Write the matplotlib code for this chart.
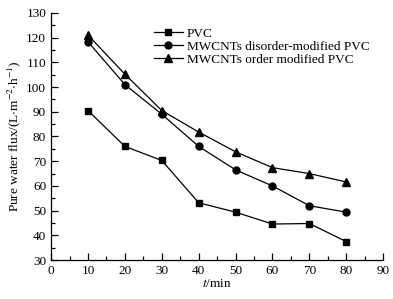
import matplotlib
matplotlib.use("Agg")
import matplotlib.pyplot as plt
from matplotlib.ticker import MultipleLocator

plt.rcParams["font.family"] = ["Liberation Serif", "DejaVu Serif"]
plt.rcParams["mathtext.fontset"] = "stix"

t = [10, 20, 30, 40, 50, 60, 70, 80]
pvc = [90.5, 76.0, 70.3, 53.2, 49.4, 44.6, 44.8, 37.5]
disorder = [118.3, 101.0, 89.0, 76.0, 66.5, 60.0, 52.0, 49.4]
order = [121.0, 105.2, 90.5, 81.8, 73.8, 67.4, 65.0, 61.6]

fig = plt.figure(figsize=(3.93, 2.99), dpi=100)
ax = fig.add_axes([0.130, 0.130, 0.845, 0.827])

ax.plot(t, pvc, "-s", color="black", lw=0.9, ms=4.5, label="PVC")
ax.plot(t, disorder, "-o", color="black", lw=0.9, ms=5, label="MWCNTs disorder-modified PVC")
ax.plot(t, order, "-^", color="black", lw=0.9, ms=5.5, label="MWCNTs order modified PVC")

ax.set_xlim(0, 90)
ax.set_ylim(30, 130)
ax.xaxis.set_major_locator(MultipleLocator(10))
ax.xaxis.set_minor_locator(MultipleLocator(5))
ax.yaxis.set_major_locator(MultipleLocator(10))
ax.yaxis.set_minor_locator(MultipleLocator(5))
ax.tick_params(which="both", direction="in", labelsize=9.5, width=0.9)
ax.tick_params(which="major", length=5)
ax.tick_params(which="minor", length=3)
ax.spines["top"].set_visible(False)
ax.spines["right"].set_visible(False)
for s in ("left", "bottom"):
    ax.spines[s].set_linewidth(0.9)

ax.set_xlabel(r"$\mathit{t}$/min", fontsize=9.5, labelpad=1)
ax.set_ylabel(r"Pure water flux/(L$\cdot$m$^{-2}$$\cdot$h$^{-1}$)", fontsize=9.5, labelpad=2)

ax.legend(loc="upper right", bbox_to_anchor=(0.975, 0.962), frameon=False, fontsize=9.5,
          handlelength=2.2, handletextpad=0.3, labelspacing=0.05, borderaxespad=0)

fig.savefig("out.png", dpi=100)
